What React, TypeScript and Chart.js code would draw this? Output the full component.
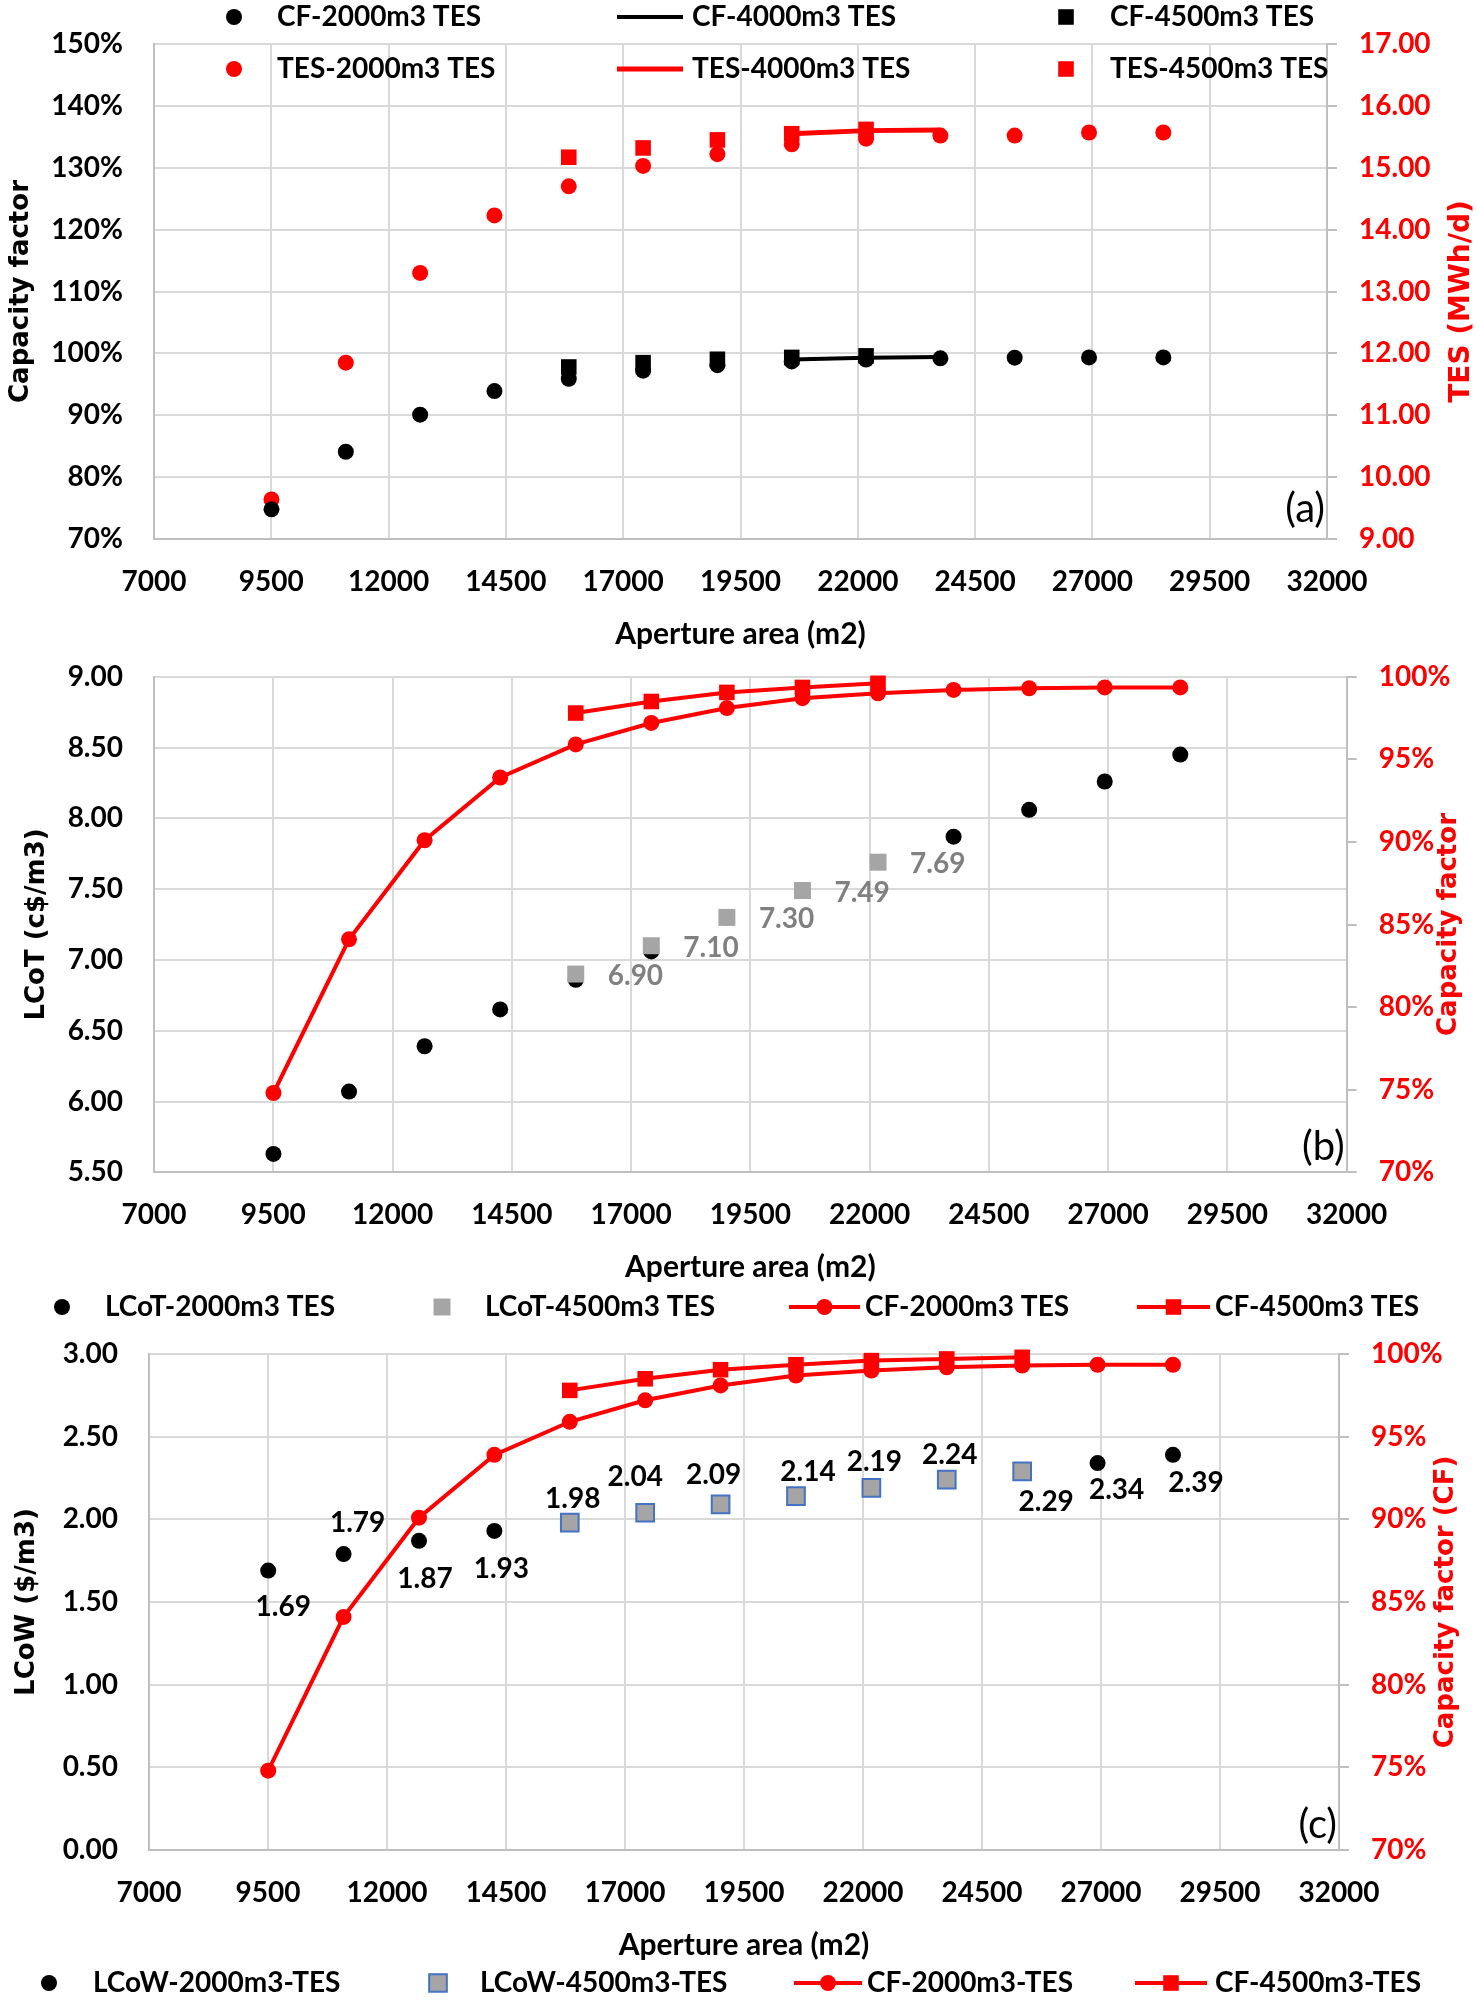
import React, { useEffect, useRef } from 'react';
import { Chart, registerables } from 'chart.js';

Chart.register(...registerables);

// ---------------- data ----------------
const apertureArea = [9504, 11088, 12672, 14256, 15840, 17424, 19008, 20592, 22176, 23760, 25344, 26928, 28512];
const area4500 = [15840, 17424, 19008, 20592, 22176, 23760, 25344];
const area4000 = [20592, 22176, 23760];

// capacity factor (%)
const cf2000 = [74.8, 84.1, 90.1, 93.9, 95.9, 97.2, 98.1, 98.7, 99.0, 99.2, 99.3, 99.35, 99.35];
const cf4500 = [97.8, 98.5, 99.05, 99.35, 99.6, 99.7, 99.8];
const cf4000 = [99.0, 99.3, 99.4];

// TES (MWh/d)
const tes2000 = [9.64, 11.85, 13.3, 14.23, 14.7, 15.03, 15.22, 15.38, 15.47, 15.52, 15.52, 15.57, 15.57];
const tes4500 = [15.17, 15.32, 15.45, 15.55, 15.62];
const tes4000 = [15.55, 15.6, 15.61];

// LCoT (c$/m3)
const lcot2000 = [5.63, 6.07, 6.39, 6.65, 6.86, 7.06, 7.3, 7.49, 7.69, 7.87, 8.06, 8.26, 8.45];
const lcot4500 = [6.9, 7.1, 7.3, 7.49, 7.69];

// LCoW ($/m3)
const lcow2000Area = [9504, 11088, 12672, 14256, 26928, 28512];
const lcow2000 = [1.69, 1.79, 1.87, 1.93, 2.34, 2.39];
const lcow4500 = [1.98, 2.04, 2.09, 2.14, 2.19, 2.24, 2.29];

// tick labels
const xTicks = [7000, 9500, 12000, 14500, 17000, 19500, 22000, 24500, 27000, 29500, 32000];
const cfTicksA = [70, 80, 90, 100, 110, 120, 130, 140, 150];
const tesTicks = [9, 10, 11, 12, 13, 14, 15, 16, 17];
const lcotTicks = [5.5, 6, 6.5, 7, 7.5, 8, 8.5, 9];
const lcowTicks = [0, 0.5, 1, 1.5, 2, 2.5, 3];
const cfTicks = [70, 75, 80, 85, 90, 95, 100];

// ---------------- styles ----------------
const FONT = "Lato, 'Noto Sans', 'DejaVu Sans', sans-serif";
const TITLE_FONT = "'DejaVu Sans', Verdana, sans-serif";
const RED = '#FF0000';
const GRAY = '#A5A5A5';
const BLUE = '#4472C4';
const GRID = '#D9D9D9';
const AXIS = '#BFBFBF';
const W = 1477;

const pts = (xs: number[], ys: number[]) => ys.map((y, i) => ({ x: xs[i], y }));
const pct = (v: number) => `${v}%`;
const fix2 = (v: number) => Number(v).toFixed(2);

function drawMarker(ctx: CanvasRenderingContext2D, style: string, x: number, y: number, r: number, fill: string, stroke: string, bw: number) {
  ctx.beginPath();
  if (style === 'rect') {
    const s = Math.SQRT1_2 * r;
    ctx.rect(x - s, y - s, 2 * s, 2 * s);
  } else {
    ctx.arc(x, y, r, 0, Math.PI * 2);
  }
  ctx.fillStyle = fill;
  ctx.fill();
  if (bw > 0) {
    ctx.lineWidth = bw;
    ctx.strokeStyle = stroke;
    ctx.stroke();
  }
}

const legendPlugin = {
  id: 'panelLegend',
  afterDraw(chart: any, _a: any, opts: any) {
    const ctx: CanvasRenderingContext2D = chart.ctx;
    ctx.save();
    for (const e of opts.entries || []) {
      const ds = chart.data.datasets[e.ds];
      if (e.x1 !== undefined) {
        ctx.beginPath();
        ctx.moveTo(e.x1, e.y);
        ctx.lineTo(e.x2, e.y);
        ctx.lineWidth = ds.borderWidth;
        ctx.strokeStyle = ds.borderColor;
        ctx.stroke();
      }
      const mx = e.mx !== undefined ? e.mx : (e.x1 + e.x2) / 2;
      if (ds.pointRadius > 0) {
        drawMarker(ctx, ds.pointStyle, mx, e.y, ds.pointRadius,
          ds.pointBackgroundColor || ds.backgroundColor,
          ds.pointBorderColor || ds.borderColor,
          ds.pointBorderWidth || 0);
      }
      ctx.font = `bold 28px ${FONT}`;
      ctx.fillStyle = '#000';
      ctx.textAlign = 'left';
      ctx.textBaseline = 'middle';
      ctx.fillText(ds.label, e.tx, e.y);
    }
    ctx.restore();
  },
};

const valueLabelPlugin = {
  id: 'valueLabels',
  afterDatasetsDraw(chart: any, _a: any, opts: any) {
    const ctx: CanvasRenderingContext2D = chart.ctx;
    ctx.save();
    for (const set of opts.sets || []) {
      const meta = chart.getDatasetMeta(set.ds);
      const data = chart.data.datasets[set.ds].data;
      ctx.font = `bold 28px ${FONT}`;
      ctx.fillStyle = set.color;
      ctx.textAlign = set.align;
      ctx.textBaseline = 'middle';
      meta.data.forEach((el: any, i: number) => {
        const off = set.offsets[i] || set.offsets[0];
        ctx.fillText(fix2(data[i].y), el.x + off[0], el.y + off[1]);
      });
    }
    ctx.restore();
  },
};

const decorPlugin = {
  id: 'decor',
  afterDraw(chart: any, _a: any, opts: any) {
    const { ctx, chartArea } = chart;
    ctx.save();
    ctx.translate(opts.rightTitleX, (chartArea.top + chartArea.bottom) / 2 + (opts.rightTitleDy || 0));
    ctx.rotate(-Math.PI / 2);
    ctx.font = `bold ${opts.rightTitleSize || 26}px ${TITLE_FONT}`;
    ctx.fillStyle = RED;
    ctx.textAlign = 'center';
    ctx.textBaseline = 'middle';
    ctx.fillText(opts.rightTitle, 0, 0);
    ctx.restore();
    ctx.save();
    ctx.font = `40px ${FONT}`;
    ctx.fillStyle = '#000';
    ctx.textAlign = 'right';
    ctx.textBaseline = 'middle';
    ctx.fillText(opts.tag, chartArea.right - 2, chartArea.bottom - opts.tagOffset);
    ctx.restore();
  },
};

const tickFont = { family: FONT, size: 28, weight: 'bold' as const };

const noPad = (s: any) => { s.paddingTop = 0; s.paddingBottom = 0; s.paddingLeft = 0; s.paddingRight = 0; };

function xScale(height: number, tickPad: number, titlePad: number) {
  return {
    type: 'linear',
    position: 'bottom',
    min: xTicks[0],
    max: xTicks[xTicks.length - 1],
    afterBuildTicks: (s: any) => { s.ticks = xTicks.map((v) => ({ value: v })); },
    afterFit: (s: any) => { s.height = height; noPad(s); },
    ticks: { callback: (v: any) => String(v), font: tickFont, color: '#000', padding: tickPad, maxRotation: 0, minRotation: 0, autoSkip: false },
    grid: { color: GRID, lineWidth: 2, drawTicks: false },
    border: { color: AXIS, width: 2 },
    title: { display: true, text: 'Aperture area (m2)', color: '#000', font: { family: FONT, size: 30, weight: 'bold' }, padding: { top: 0, bottom: titlePad } },
  };
}

function leftScale(ticks: number[], fmt: (v: number) => string, width: number, title: string, titlePad: number) {
  return {
    type: 'linear',
    position: 'left',
    min: ticks[0],
    max: ticks[ticks.length - 1],
    afterBuildTicks: (s: any) => { s.ticks = ticks.map((v) => ({ value: v })); },
    afterFit: (s: any) => { s.width = width; noPad(s); },
    ticks: { callback: (v: any) => fmt(v), font: tickFont, color: '#000', padding: 31 },
    grid: { color: GRID, lineWidth: 2, drawTicks: false },
    border: { color: AXIS, width: 2 },
    title: { display: true, text: title, color: '#000', font: { family: TITLE_FONT, size: 26, weight: 'bold' }, padding: { top: titlePad, bottom: 0 } },
  };
}

function rightScale(ticks: number[], fmt: (v: number) => string, width: number) {
  return {
    type: 'linear',
    position: 'right',
    min: ticks[0],
    max: ticks[ticks.length - 1],
    afterBuildTicks: (s: any) => { s.ticks = ticks.map((v) => ({ value: v })); },
    afterFit: (s: any) => { s.width = width; noPad(s); },
    ticks: { callback: (v: any) => fmt(v), font: tickFont, color: RED, padding: 22 },
    grid: { drawOnChartArea: false, drawTicks: true, tickLength: 10, color: AXIS, lineWidth: 2 },
    border: { color: AXIS, width: 2 },
  };
}

const scatterSet = (label: string, data: any[], color: string, style: string, r: number, yAxisID: string, order: number, border?: string, bw = 0) => ({
  label, data, yAxisID, order,
  showLine: false,
  pointStyle: style,
  pointRadius: r,
  pointHoverRadius: r,
  backgroundColor: color,
  borderColor: border || color,
  pointBackgroundColor: color,
  pointBorderColor: border || color,
  pointBorderWidth: bw,
  clip: false,
});

const lineSet = (label: string, data: any[], color: string, style: string, r: number, width: number, yAxisID: string, order: number) => ({
  label, data, yAxisID, order,
  showLine: true,
  borderColor: color,
  backgroundColor: color,
  borderWidth: width,
  pointStyle: style,
  pointRadius: r,
  pointHoverRadius: r,
  pointBackgroundColor: color,
  pointBorderColor: color,
  pointBorderWidth: 0,
  tension: 0,
  clip: false,
});

const baseOptions = (padTop: number) => ({
  responsive: false,
  maintainAspectRatio: false,
  animation: false,
  events: [],
  layout: { padding: { top: padTop, left: 0, right: 0, bottom: 0 } },
});

// ---------------- panel configs ----------------
const H_A = 660, H_B = 670, H_C = 670;

function configA() {
  const datasets = [
    scatterSet('CF-2000m3 TES', pts(apertureArea, cf2000), '#000', 'circle', 8, 'y', 3),
    lineSet('CF-4000m3 TES', pts(area4000, cf4000), '#000', 'circle', 0, 4, 'y', 1),
    scatterSet('CF-4500m3 TES', pts(area4500, cf4500.slice(0, 5)), '#000', 'rect', 11, 'y', 2),
    scatterSet('TES-2000m3 TES', pts(apertureArea, tes2000), RED, 'circle', 8, 'y2', 3),
    lineSet('TES-4000m3 TES', pts(area4000, tes4000), RED, 'circle', 0, 5, 'y2', 1),
    scatterSet('TES-4500m3 TES', pts(area4500, tes4500), RED, 'rect', 11, 'y2', 2),
  ];
  return {
    type: 'scatter',
    data: { datasets },
    options: {
      ...baseOptions(44),
      scales: {
        x: xScale(H_A - 539, 26, 8),
        y: leftScale(cfTicksA, pct, 154, 'Capacity factor', 6),
        y2: rightScale(tesTicks, fix2, W - 1327),
      },
      plugins: {
        legend: { display: false },
        tooltip: { enabled: false },
        panelLegend: {
          entries: [
            { ds: 0, mx: 234, tx: 277, y: 17 },
            { ds: 1, x1: 617, x2: 683, tx: 692, y: 17 },
            { ds: 2, mx: 1066, tx: 1110, y: 17 },
            { ds: 3, mx: 234, tx: 277, y: 69 },
            { ds: 4, x1: 617, x2: 683, tx: 692, y: 69 },
            { ds: 5, mx: 1066, tx: 1110, y: 69 },
          ],
        },
        decor: { rightTitle: 'TES (MWh/d)', rightTitleX: 1462, rightTitleDy: 10, rightTitleSize: 28, tag: '(a)', tagOffset: 30 },
      },
    },
    plugins: [legendPlugin, decorPlugin],
  };
}

function configB() {
  const datasets = [
    scatterSet('LCoT-2000m3 TES', pts(apertureArea, lcot2000), '#000', 'circle', 8, 'y', 4),
    scatterSet('LCoT-4500m3 TES', pts(area4500, lcot4500), GRAY, 'rect', 12, 'y', 3),
    lineSet('CF-2000m3 TES', pts(apertureArea, cf2000), RED, 'circle', 8, 4, 'y2', 2),
    lineSet('CF-4500m3 TES', pts(area4500.slice(0, 5), cf4500.slice(0, 5)), RED, 'rect', 11, 4, 'y2', 1),
  ];
  return {
    type: 'scatter',
    data: { datasets },
    options: {
      ...baseOptions(16.7),
      scales: {
        x: xScale(H_B - 512.3, 26, 45),
        y: leftScale(lcotTicks, fix2, 154, 'LCoT (c$/m3)', 22),
        y2: rightScale(cfTicks, pct, W - 1346.7),
      },
      plugins: {
        legend: { display: false },
        tooltip: { enabled: false },
        panelLegend: {
          entries: [
            { ds: 0, mx: 62, tx: 105, y: 647 },
            { ds: 1, mx: 442, tx: 485, y: 647 },
            { ds: 2, x1: 789, x2: 860, tx: 865, y: 647 },
            { ds: 3, x1: 1137, x2: 1210, tx: 1215, y: 647 },
          ],
        },
        valueLabels: { sets: [{ ds: 1, color: '#808080', align: 'left', offsets: [[32, 2]] }] },
        decor: { rightTitle: 'Capacity factor', rightTitleX: 1449, tag: '(b)', tagOffset: 25 },
      },
    },
    plugins: [legendPlugin, valueLabelPlugin, decorPlugin],
  };
}

function configC() {
  const datasets = [
    scatterSet('LCoW-2000m3-TES', pts(lcow2000Area, lcow2000), '#000', 'circle', 8, 'y', 4),
    scatterSet('LCoW-4500m3-TES', pts(area4500, lcow4500), GRAY, 'rect', 12.5, 'y', 3, BLUE, 2),
    lineSet('CF-2000m3-TES', pts(apertureArea, cf2000), RED, 'circle', 8, 4, 'y2', 2),
    lineSet('CF-4500m3-TES', pts(area4500, cf4500), RED, 'rect', 11, 4, 'y2', 1),
  ];
  return {
    type: 'scatter',
    data: { datasets },
    options: {
      ...baseOptions(24),
      scales: {
        x: xScale(H_C - 520, 26, 37),
        y: leftScale(lcowTicks, fix2, 149, 'LCoW ($/m3)', 12),
        y2: rightScale(cfTicks, pct, W - 1339),
      },
      plugins: {
        legend: { display: false },
        tooltip: { enabled: false },
        panelLegend: {
          entries: [
            { ds: 0, mx: 49, tx: 93, y: 653 },
            { ds: 1, mx: 438, tx: 480, y: 653 },
            { ds: 2, x1: 794, x2: 862, tx: 867, y: 653 },
            { ds: 3, x1: 1135, x2: 1207, tx: 1215, y: 653 },
          ],
        },
        valueLabels: {
          sets: [
            { ds: 0, color: '#000', align: 'center', offsets: [[15, 36], [14, -31], [6, 38], [7, 38], [19, 27], [23, 28]] },
            { ds: 1, color: '#000', align: 'center', offsets: [[3, -24], [-10, -36], [-7, -29], [12, -24], [3, -26], [3, -25], [24, 31]] },
          ],
        },
        decor: { rightTitle: 'Capacity factor (CF)', rightTitleX: 1446, tag: '(c)', tagOffset: 25 },
      },
    },
    plugins: [legendPlugin, valueLabelPlugin, decorPlugin],
  };
}

function Panel({ top, height, make }: { top: number; height: number; make: () => any }) {
  const ref = useRef<HTMLCanvasElement>(null);
  useEffect(() => {
    if (!ref.current) return;
    const chart = new Chart(ref.current, make());
    return () => chart.destroy();
  }, [make]);
  return (
    <canvas
      ref={ref}
      width={W}
      height={height}
      style={{ position: 'absolute', left: 0, top, width: W, height, display: 'block' }}
    />
  );
}

export default function App() {
  Chart.defaults.font.family = FONT;
  return (
    <div style={{ position: 'absolute', left: 0, top: 0, width: W, height: 2000, background: '#fff' }}>
      <Panel top={0} height={H_A} make={configA} />
      <Panel top={H_A} height={H_B} make={configB} />
      <Panel top={H_A + H_B} height={H_C} make={configC} />
    </div>
  );
}
